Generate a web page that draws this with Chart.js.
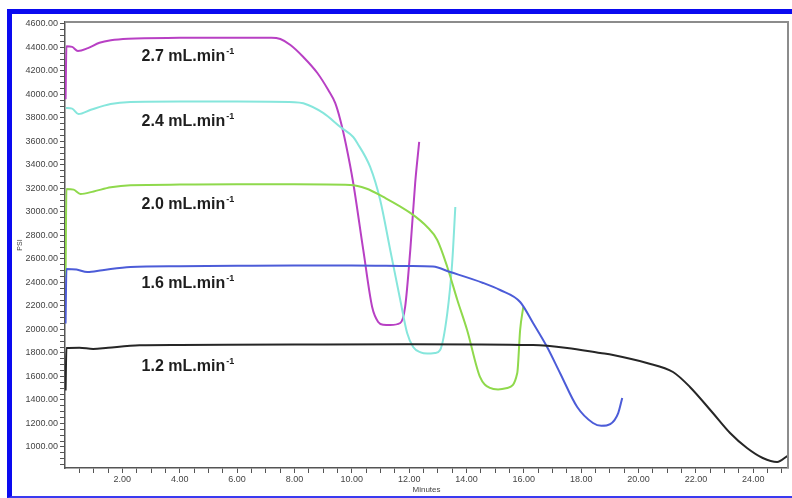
<!DOCTYPE html>
<html>
<head>
<meta charset="utf-8">
<script src="https://cdn.jsdelivr.net/npm/chart.js@4.4.1/dist/chart.umd.min.js"></script>
<style>
  html, body { margin: 0; padding: 0; background: #fff; }
  #wrap { position: relative; width: 792px; height: 498px; overflow: hidden; }
  #frame {
    position: absolute; left: 7px; top: 9px; width: 800px; height: 482px;
    border-left: 5px solid #0a0af0; border-top: 5px solid #0a0af0; border-bottom: 2px solid #3a3af0;
  }
  #c { position: absolute; left: 0; top: 0; }
</style>
</head>
<body>
<div id="wrap">
  <div id="frame"></div>
  <canvas id="c" width="792" height="498"></canvas>
</div>
<script>
// pressure traces (minutes, psi) for each flow rate
const t27 = [0.02, 0.05, 0.25, 0.45, 0.8, 1.2, 1.6, 2.2, 4.0, 6.0, 7.2, 7.51, 7.86, 8.31, 8.80, 9.18, 9.42, 9.60, 9.80, 10.05, 10.40, 10.71, 10.92, 11.1, 11.34, 11.69, 11.86, 12.04, 12.21, 12.35];
const p27 = [3960, 4410, 4405, 4370, 4395, 4440, 4462, 4475, 4482, 4484, 4484, 4472, 4421, 4319, 4183, 4038, 3928, 3783, 3570, 3247, 2677, 2192, 2064, 2040, 2038, 2055, 2192, 2677, 3247, 3596];

const t24 = [0.03, 0.25, 0.47, 0.9, 1.59, 2.28, 4, 6, 8.0, 8.31, 9.0, 9.60, 10.05, 10.19, 10.64, 10.99, 11.34, 11.69, 11.93, 12.14, 12.4, 12.63, 12.9, 13.08, 13.33, 13.50, 13.61];
const p24 = [3885, 3880, 3834, 3870, 3919, 3936, 3940, 3940, 3935, 3925, 3843, 3724, 3638, 3587, 3383, 3102, 2677, 2251, 1970, 1851, 1805, 1795, 1800, 1826, 2140, 2566, 3043];

const t20 = [0.02, 0.05, 0.3, 0.54, 1.0, 1.6, 2.28, 4, 6, 8, 9.94, 10.5, 11.10, 12.04, 12.63, 12.98, 13.33, 13.68, 14.02, 14.47, 14.82, 15.1, 15.42, 15.77, 15.87, 15.98];
const p20 = [2450, 3196, 3190, 3153, 3175, 3210, 3228, 3233, 3235, 3235, 3230, 3200, 3128, 2992, 2872, 2762, 2532, 2251, 1996, 1596, 1502, 1490, 1502, 1630, 1996, 2192];

const t16 = [0.02, 0.05, 0.4, 0.78, 1.3, 2.28, 4, 6, 8, 10, 12, 12.83, 13.43, 14.58, 15.17, 15.87, 16.32, 16.81, 17.26, 17.86, 18.41, 18.7, 19.01, 19.29, 19.43];
const p16 = [2050, 2515, 2510, 2489, 2505, 2532, 2538, 2542, 2545, 2545, 2540, 2535, 2489, 2396, 2336, 2234, 2055, 1851, 1630, 1340, 1204, 1180, 1195, 1289, 1417];

const t12 = [0.02, 0.05, 0.5, 0.98, 1.5, 2.6, 4, 8, 12, 16.32, 17.51, 18.66, 19.11, 20.29, 21.2, 21.79, 22.59, 23.19, 23.78, 24.33, 24.83, 25.2];
const p12 = [1480, 1843, 1845, 1834, 1845, 1865, 1868, 1872, 1875, 1868, 1843, 1800, 1783, 1715, 1638, 1511, 1289, 1119, 991, 906, 872, 925];

// flow-rate captions, anchored in data units (minutes, psi at baseline)
const rates = ["2.7", "2.4", "2.0", "1.6", "1.2"];
const rateX = [2.67, 2.67, 2.67, 2.67, 2.67];
const rateY = [4281, 3732, 3026, 2353, 1647];

// axis ticks: minor every 0.5 min / 50 psi, labelled every 2 min / 200 psi
const xTicks = [];
for (let v = 0.5; v <= 25; v += 0.5) xTicks.push(v);
const yTicks = [];
for (let v = 850; v <= 4600; v += 50) yTicks.push(v);

function pts(ts, ps) {
  return ts.map((t, i) => ({ x: t, y: ps[i] }));
}

const frameBox = {
  id: "frameBox",
  afterDraw(chart) {
    const { ctx, chartArea: a } = chart;
    ctx.save();
    ctx.strokeStyle = "#8c8c8c";
    ctx.lineWidth = 2;
    ctx.beginPath();
    ctx.moveTo(a.left, a.top);
    ctx.lineTo(a.right, a.top);
    ctx.lineTo(a.right, a.bottom);
    ctx.stroke();
    ctx.restore();
  }
};

const rateLabels = {
  id: "rateLabels",
  afterDatasetsDraw(chart) {
    const { ctx, scales } = chart;
    ctx.save();
    ctx.fillStyle = "#1e1e1e";
    ctx.textBaseline = "alphabetic";
    rates.forEach((r, i) => {
      const x = scales.x.getPixelForValue(rateX[i]);
      const y = scales.y.getPixelForValue(rateY[i]);
      ctx.font = "bold 16px 'Liberation Sans', Arial, sans-serif";
      const txt = r + " mL.min";
      ctx.fillText(txt, x, y);
      const w = ctx.measureText(txt).width;
      ctx.font = "bold 9px 'Liberation Sans', Arial, sans-serif";
      ctx.fillText("-1", x + w + 1, y - 7);
    });
    ctx.restore();
  }
};

function line(data, color, width) {
  return {
    data: data,
    borderColor: color,
    borderWidth: width,
    pointRadius: 0,
    fill: false,
    cubicInterpolationMode: "monotone"
  };
}

new Chart(document.getElementById("c"), {
  type: "line",
  data: {
    datasets: [
      line(pts(t12, p12), "#262626", 2),
      line(pts(t16, p16), "#4c5cd8", 2),
      line(pts(t20, p20), "#8fd94c", 2),
      line(pts(t24, p24), "#86e6dc", 2),
      line(pts(t27, p27), "#b840c4", 2)
    ]
  },
  options: {
    responsive: false,
    devicePixelRatio: 1,
    animation: false,
    layout: { padding: { left: 0, top: 22, right: 4, bottom: 0 } },
    plugins: { legend: { display: false }, tooltip: { enabled: false } },
    scales: {
      x: {
        type: "linear",
        min: 0,
        max: 25.21,
        afterBuildTicks: (s) => { s.ticks = xTicks.map(v => ({ value: v })); },
        afterFit: (s) => { s.height = 30; },
        grid: { drawOnChartArea: false, tickLength: 5, tickColor: "#555" },
        border: { color: "#555", width: 1.5 },
        ticks: {
          autoSkip: false,
          maxRotation: 0,
          padding: 1,
          color: "#444",
          font: { family: "'Liberation Sans', Arial, sans-serif", size: 9 },
          callback: (v) => (v % 2 === 0 && v > 0 ? v.toFixed(2) : "")
        },
        title: {
          display: true,
          text: "Minutes",
          color: "#444",
          font: { family: "'Liberation Sans', Arial, sans-serif", size: 8 },
          padding: { top: 0, bottom: 3 }
        }
      },
      y: {
        type: "linear",
        min: 821,
        max: 4617,
        afterBuildTicks: (s) => { s.ticks = yTicks.map(v => ({ value: v })); },
        afterFit: (s) => { s.width = 65; },
        grid: { drawOnChartArea: false, tickLength: 5, tickColor: "#555" },
        border: { color: "#555", width: 1.5 },
        ticks: {
          autoSkip: false,
          padding: 2,
          color: "#444",
          font: { family: "'Liberation Sans', Arial, sans-serif", size: 9 },
          callback: (v) => (v % 200 === 0 ? v.toFixed(2) : "")
        },
        title: {
          display: true,
          text: "PSI",
          color: "#444",
          font: { family: "'Liberation Sans', Arial, sans-serif", size: 7 },
          padding: { top: 16, bottom: 0 }
        }
      }
    }
  },
  plugins: [frameBox, rateLabels]
});
</script>
</body>
</html>
